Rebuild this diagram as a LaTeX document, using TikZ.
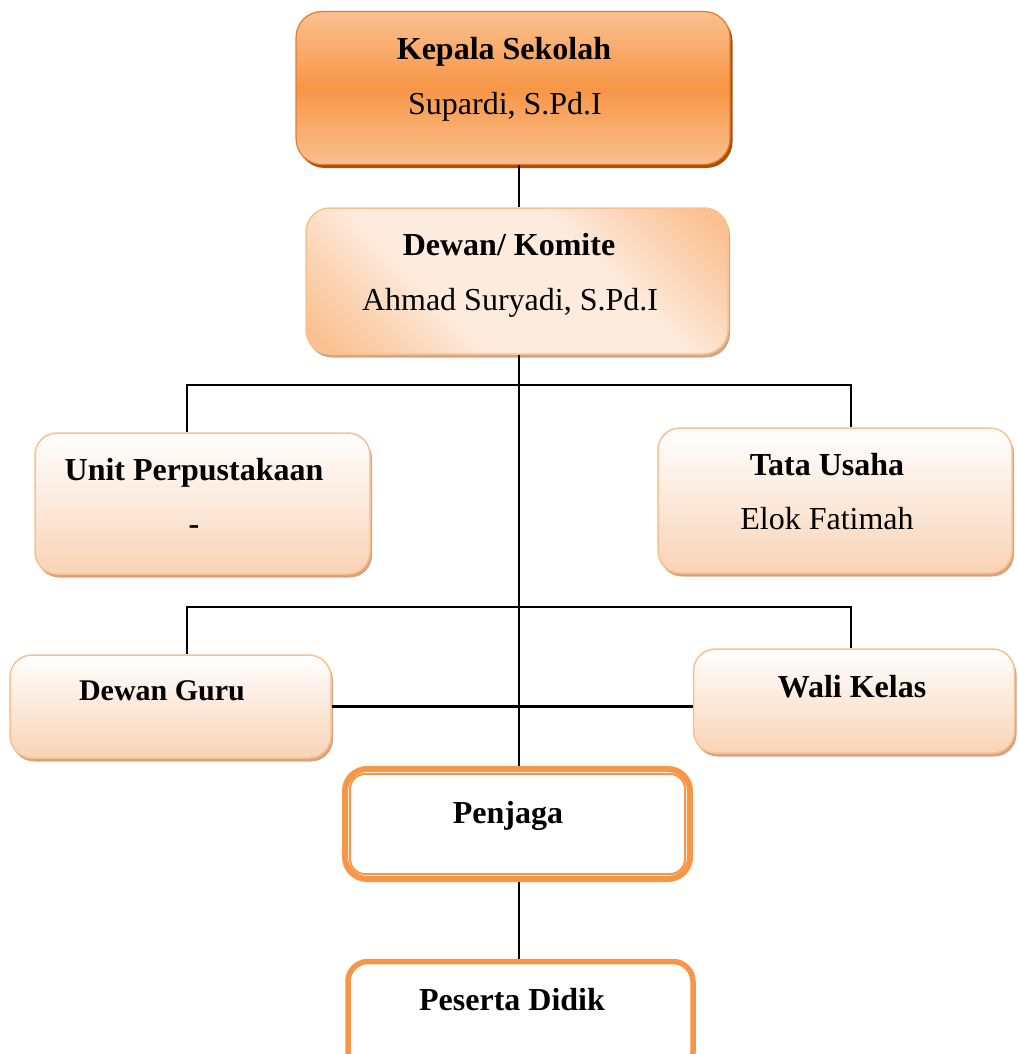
\documentclass[tikz,border=0pt]{standalone}
\usepackage{fontspec}
\setmainfont{Liberation Serif}
\usetikzlibrary{shadows}

\definecolor{orMain}{HTML}{F79646}
\definecolor{orLight}{HTML}{FAC090}
\definecolor{orPale}{HTML}{F9D3B5}
\definecolor{orFaint}{HTML}{FDEBDD}
\definecolor{orEdge}{HTML}{E8792A}
\definecolor{orShade}{HTML}{A9510C}
\definecolor{tanShade}{HTML}{D6A47F}

\pgfdeclareverticalshading{councilshade}{100bp}{color(0bp)=(orLight); color(18bp)=(orLight); color(38bp)=(orFaint); color(62bp)=(orFaint); color(82bp)=(orLight); color(100bp)=(orLight)}

\tikzstyle{headbox} = [rectangle, rounded corners=26pt, inner sep=0pt, draw=orEdge, line width=1.2pt, top color=orLight, bottom color=orLight, middle color=orMain, drop shadow={shadow xshift=2.5pt, shadow yshift=-3.5pt, fill=orShade, opacity=1}]
\tikzstyle{councilbox} = [rectangle, rounded corners=24pt, inner sep=0pt, draw=orLight, line width=1.5pt, shading=councilshade, shading angle=-45, drop shadow={shadow xshift=2pt, shadow yshift=-3.5pt, fill=tanShade, opacity=1}]
\tikzstyle{unitbox} = [rectangle, rounded corners=22pt, inner sep=0pt, draw=orLight, line width=1.5pt, top color=white, bottom color=orPale, drop shadow={shadow xshift=2pt, shadow yshift=-3.5pt, fill=tanShade, opacity=1}]
\tikzstyle{guardbox} = [rectangle, rounded corners=22pt, inner sep=0pt, draw=orMain, line width=6pt, fill=white]
\tikzstyle{pupilbox} = [rectangle, rounded corners=20pt, inner sep=0pt, draw=orMain, line width=5.5pt, fill=white]
\tikzstyle{title} = [anchor=base, inner sep=0pt, font=\fontsize{32}{38}\selectfont\bfseries]
\tikzstyle{person} = [anchor=base, inner sep=0pt, font=\fontsize{32}{38}\selectfont]
\tikzstyle{link} = [line width=1.6pt, black]
\tikzstyle{thicklink} = [line width=2.6pt, black]

\begin{document}
\begin{tikzpicture}[x=1pt, y=-1pt]
    \useasboundingbox (0,0) rectangle (1017,1054);

    \node (kepala) [headbox, minimum width=434pt, minimum height=153pt] at (513,88) {};
    \node (kepalat) [title] at (504,60) {Kepala Sekolah};
    \node (kepalan) [person] at (505,114) {Supardi, S.Pd.I};

    \node (dewan) [councilbox, minimum width=422pt, minimum height=146pt] at (517,281) {};
    \node (dewant) [title] at (509,255) {Dewan/ Komite};
    \node (dewann) [person] at (510,310) {Ahmad Suryadi, S.Pd.I};

    \node (unit) [unitbox, minimum width=335pt, minimum height=141pt] at (202.5,503.5) {};
    \node (unitt) [title] at (194,480) {Unit Perpustakaan};
    \node (unitn) [title] at (194,534) {-};

    \node (tata) [unitbox, minimum width=354pt, minimum height=145pt] at (835,500.5) {};
    \node (tatat) [title] at (827,475) {Tata Usaha};
    \node (tatan) [person] at (827,529) {Elok Fatimah};

    \node (guru) [unitbox, minimum width=321pt, minimum height=103pt] at (170.5,706.5) {};
    \node (gurut) [title, font=\fontsize{30}{36}\selectfont\bfseries] at (162,700) {Dewan Guru};

    \node (wali) [unitbox, minimum width=321pt, minimum height=104pt] at (854,701) {};
    \node (walit) [title] at (852,697) {Wali Kelas};

    \node (penjaga) [guardbox, minimum width=345pt, minimum height=110pt] at (517.5,824) {};
    \draw [orMain, line width=2pt, rounded corners=15pt] ([xshift=8pt, yshift=-8pt]penjaga.north west) rectangle ([xshift=-8pt, yshift=8pt]penjaga.south east);
    \node (penjagat) [title] at (508,823) {Penjaga};

    \node (peserta) [pupilbox, minimum width=345pt, minimum height=110pt] at (520.5,1016.5) {};
    \node (pesertat) [title] at (512,1010) {Peserta Didik};

    % spine and the two branch bars
    \coordinate (spine) at (519,0);
    \coordinate (busla) at (187,385);
    \coordinate (busra) at (851,385);
    \coordinate (buslb) at (187,607);
    \coordinate (busrb) at (851,607);

    \draw [link] (spine |- kepala.south) -- (spine |- dewan.north);
    \draw [link] (spine |- dewan.south) -- (spine |- penjaga.north);
    \draw [link] (spine |- penjaga.south) -- (spine |- peserta.north);
    \draw [link] (busla |- unit.north) -- (busla) -- (busra) -- (busra |- tata.north);
    \draw [link] (buslb |- guru.north) -- (buslb) -- (busrb) -- (busrb |- wali.north);
    \draw [thicklink] (guru.east) -- (guru.east -| wali.west);

\end{tikzpicture}
\end{document}
